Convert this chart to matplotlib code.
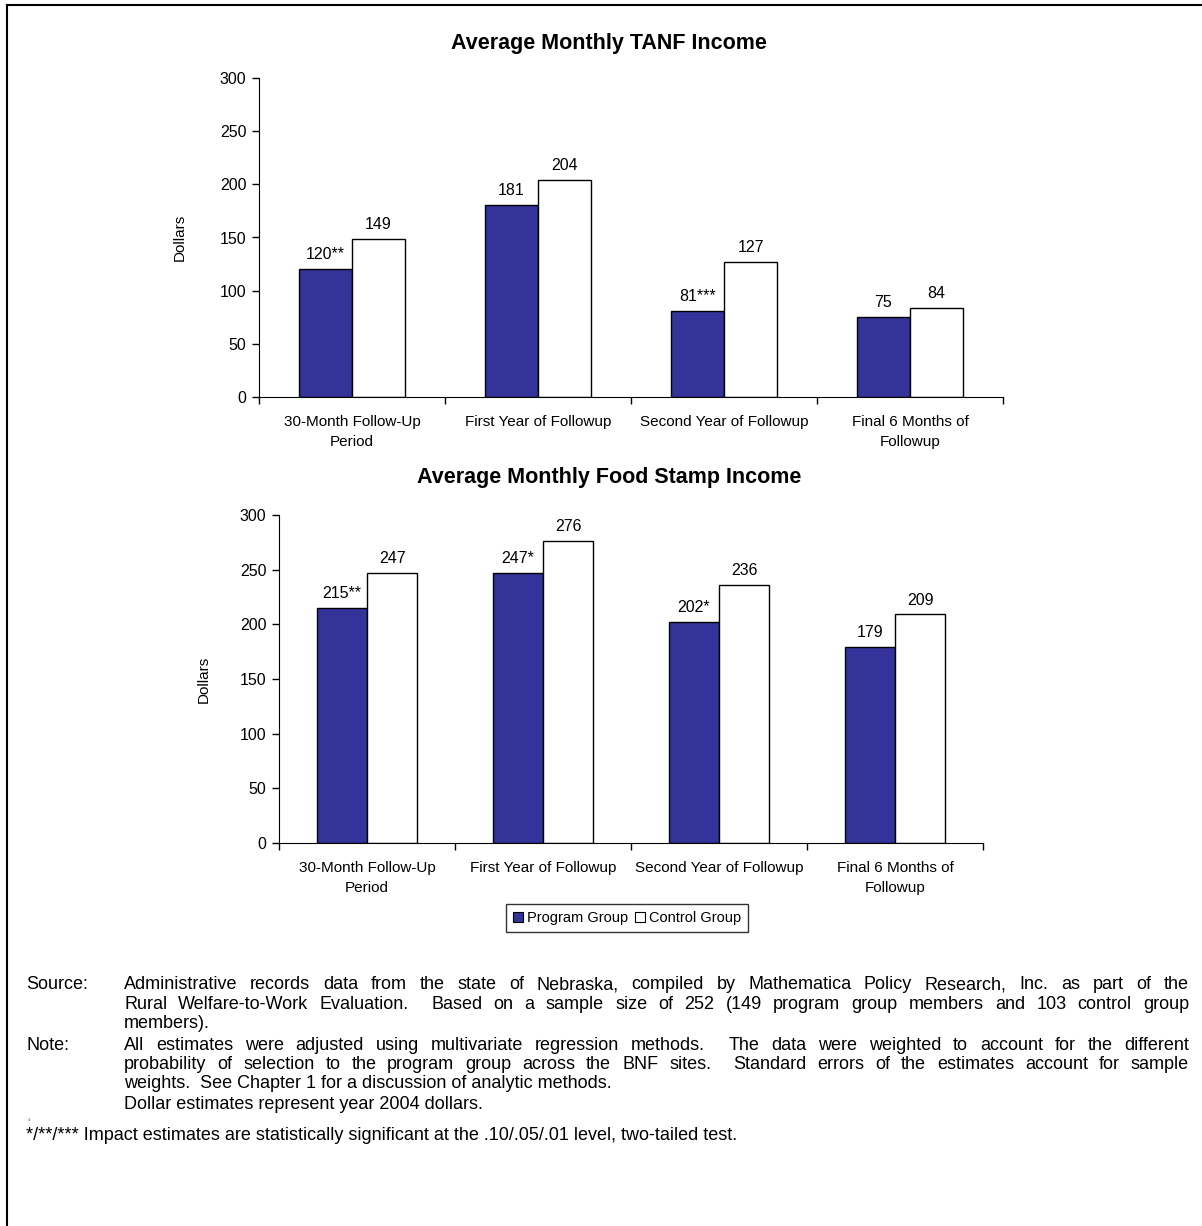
import numpy as np
import matplotlib.pyplot as plt
from matplotlib.lines import Line2D
from matplotlib.patches import Patch

plt.rcParams['font.family'] = ['Liberation Sans', 'DejaVu Sans']

W, H = 1202, 1226

categories = ['30-Month Follow-Up\nPeriod', 'First Year of Followup',
              'Second Year of Followup', 'Final 6 Months of\nFollowup']

tanf_program = [120, 181, 81, 75]
tanf_control = [149, 204, 127, 84]
tanf_program_lbl = ['120**', '181', '81***', '75']
tanf_control_lbl = ['149', '204', '127', '84']

fs_program = [215, 247, 202, 179]
fs_control = [247, 276, 236, 209]
fs_program_lbl = ['215**', '247*', '202*', '179']
fs_control_lbl = ['247', '276', '236', '209']

titles = ['Average Monthly TANF Income', 'Average Monthly Food Stamp Income']

source_lines = [
    "Administrative records data from the state of Nebraska, compiled by Mathematica Policy Research, Inc. as part of the",
    "Rural Welfare-to-Work Evaluation.  Based on a sample size of 252 (149 program group members and 103 control group",
    "members).",
]
note_lines = [
    "All estimates were adjusted using multivariate regression methods.  The data were weighted to account for the different",
    "probability of selection to the program group across the BNF sites.  Standard errors of the estimates account for sample",
    "weights.  See Chapter 1 for a discussion of analytic methods.",
]
dollar_line = "Dollar estimates represent year 2004 dollars."
star_line = "*/**/*** Impact estimates are statistically significant at the .10/.05/.01 level, two-tailed test."

PROG = '#333399'
BW = 0.285
NOTE_FS = 13


def fx(px):
    return px / W


def fy(py):
    return 1 - py / H


def bar_chart(rect, prog, ctrl, plbl, clbl, title, title_y):
    ax = fig.add_axes(rect)
    x = np.arange(len(categories)) + 0.5
    b1 = ax.bar(x - BW / 2, prog, BW, color=PROG, edgecolor='black', linewidth=1)
    b2 = ax.bar(x + BW / 2, ctrl, BW, color='white', edgecolor='black', linewidth=1)
    for bars, lbls in ((b1, plbl), (b2, clbl)):
        for b, t in zip(bars, lbls):
            ax.annotate(t, (b.get_x() + b.get_width() / 2, b.get_height()),
                        xytext=(0, 5), textcoords='offset points',
                        ha='center', va='bottom', fontsize=11.5)
    ax.set_xlim(0, len(categories))
    ax.set_ylim(0, 300)
    ax.set_yticks(range(0, 301, 50))
    ax.set_xticks(x)
    ax.set_xticklabels(categories, fontsize=11, linespacing=1.55)
    ax.tick_params(axis='x', length=0, pad=13)
    ax.set_xticks(np.arange(len(categories) + 1), minor=True)
    ax.tick_params(axis='x', which='minor', length=5, width=1, direction='out')
    ax.tick_params(axis='y', length=5, width=1, direction='out', labelsize=11.5, pad=4)
    ax.spines[['top', 'right']].set_visible(False)
    ax.set_ylabel('Dollars', fontsize=11)
    ax.yaxis.set_label_coords(-0.097, 0.5)
    fig.text(fx(609), fy(title_y), title, ha='center', va='center',
             fontsize=15.5, fontweight='bold')
    return ax


fig = plt.figure(figsize=(W / 100, H / 100), dpi=100)

bar_chart([fx(259), fy(397), fx(1003) - fx(259), fy(78) - fy(397)],
          tanf_program, tanf_control, tanf_program_lbl, tanf_control_lbl,
          titles[0], 44)
bar_chart([fx(279), fy(843), fx(983) - fx(279), fy(515) - fy(843)],
          fs_program, fs_control, fs_program_lbl, fs_control_lbl,
          titles[1], 478)

handles = [Patch(facecolor=PROG, edgecolor='black', linewidth=0.8),
           Patch(facecolor='white', edgecolor='black', linewidth=0.8)]
leg = fig.legend(handles, ['Program Group', 'Control Group'], ncol=2,
                 loc='center', bbox_to_anchor=(fx(627), fy(918)),
                 fontsize=10.5, frameon=True, fancybox=False,
                 handlelength=0.7, handleheight=0.7, handletextpad=0.25,
                 columnspacing=0.5, borderpad=0.5, borderaxespad=0)
leg.get_frame().set_edgecolor('black')
leg.get_frame().set_linewidth(1)

# frame lines on left and top
fig.add_artist(Line2D([fx(7), fx(7)], [fy(5), 0], color='black', lw=1.5))
fig.add_artist(Line2D([fx(7), 1], [fy(5), fy(5)], color='black', lw=1.5))

renderer = fig.canvas.get_renderer()


def text_width(s, size):
    t = fig.text(0, 0, s, fontsize=size)
    w = t.get_window_extent(renderer).width
    t.remove()
    return w


def put(x, y, s, size=NOTE_FS):
    # y is the visual middle of the line in pixels; place on baseline
    fig.text(fx(x), fy(y + 6), s, fontsize=size, va='baseline')


def justified(line, x0, x1, y, size=NOTE_FS, justify=True):
    if not justify:
        put(x0, y, line, size)
        return
    words = line.split(' ')
    sp = text_width('x x', size) - text_width('xx', size)
    widths = [text_width(w, size) if w else 0 for w in words]
    n = len(words) - 1
    natural = sum(widths) + n * sp
    extra = max(0, (x1 - x0 - natural) / n)
    x = x0
    for w, wd in zip(words, widths):
        if w:
            put(x, y, w, size)
        x += wd + sp + extra


put(26, 983, 'Source:')
for i, (ln, yy) in enumerate(zip(source_lines, [983, 1003, 1022])):
    justified(ln, 124, 1189, yy, justify=i < len(source_lines) - 1)

put(26, 1044, 'Note:')
for i, (ln, yy) in enumerate(zip(note_lines, [1044, 1063, 1082])):
    justified(ln, 124, 1189, yy, justify=i < len(note_lines) - 1)

put(124, 1103, dollar_line)
fig.text(fx(28), fy(1120), '4', fontsize=3, va='center', color='#555555')
put(26, 1134, star_line)

plt.savefig('out.png', dpi=100)
